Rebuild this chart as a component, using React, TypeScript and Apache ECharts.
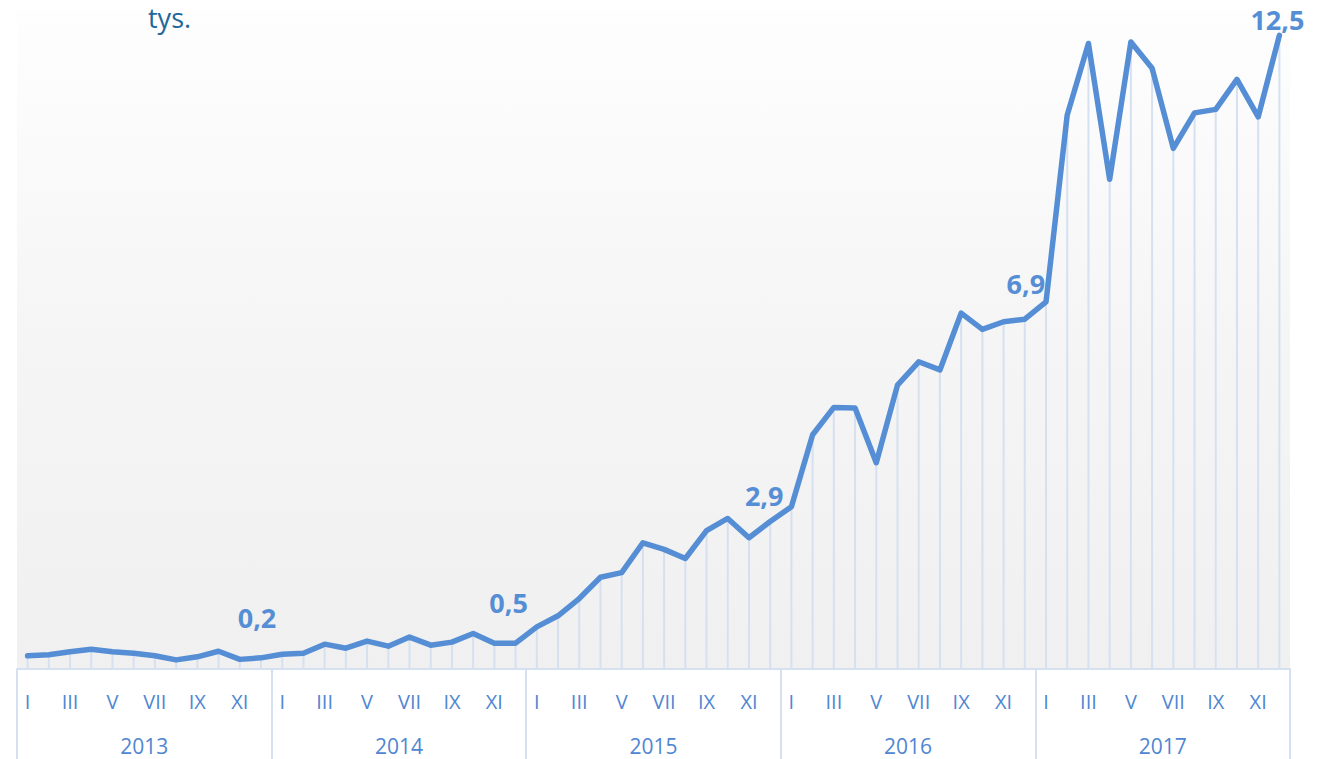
import React, { useEffect, useRef } from "react";
import * as echarts from "echarts";

const years = ["2013", "2014", "2015", "2016", "2017"];
const romanMonths = ["I", "II", "III", "IV", "V", "VI", "VII", "VIII", "IX", "X", "XI", "XII"];

const values2013 = [0.26, 0.28, 0.34, 0.39, 0.34, 0.31, 0.26, 0.18, 0.24, 0.35, 0.19, 0.22];
const values2014 = [0.29, 0.31, 0.49, 0.41, 0.55, 0.45, 0.63, 0.47, 0.53, 0.7, 0.51, 0.51];
const values2015 = [0.83, 1.05, 1.39, 1.81, 1.9, 2.49, 2.36, 2.18, 2.73, 2.97, 2.59, 2.91];
const values2016 = [3.2, 4.62, 5.16, 5.15, 4.07, 5.6, 6.06, 5.9, 7.02, 6.7, 6.85, 6.9];
const values2017 = [7.24, 10.93, 12.34, 9.66, 12.37, 11.85, 10.27, 10.97, 11.04, 11.63, 10.89, 12.5];

// labelled points: index -> text
const labelIndex = [11, 23, 35, 47, 59];
const labelText = ["0,2", "0,5", "2,9", "6,9", "12,5"];

const BLUE = "#558ed5";
const LIGHT = "#d5e1f1";

export default function App() {
  const ref = useRef<HTMLDivElement>(null);

  useEffect(() => {
    if (!ref.current) return;
    const chart = echarts.init(ref.current, undefined, { renderer: "svg" });

    const values = [...values2013, ...values2014, ...values2015, ...values2016, ...values2017];
    const categories: string[] = [];
    years.forEach((y) => romanMonths.forEach((m, i) => categories.push(y + "-" + i)));

    const labelOffsets: Record<number, number[]> = {
      11: [-4, -40],
      23: [-7, -41],
      35: [-6, -26],
      47: [1, -36],
      59: [-2, -16],
    };

    const lineData = values.map((v, i) => {
      const k = labelIndex.indexOf(i);
      if (k < 0) return { value: v, label: { show: false } };
      return {
        value: v,
        label: {
          show: true,
          position: "inside",
          offset: labelOffsets[i],
          formatter: labelText[k],
          color: BLUE,
          fontSize: 27,
          fontWeight: "bold",
          fontFamily: "Open Sans",
        },
      };
    });

    chart.setOption({
      animation: false,
      grid: {
        left: 17,
        right: 31,
        top: 10,
        bottom: 90,
        show: true,
        borderWidth: 0,
        backgroundColor: new echarts.graphic.LinearGradient(0, 0, 0, 1, [
          { offset: 0, color: "#fefefe" },
          { offset: 0.5, color: "#f5f5f5" },
          { offset: 1, color: "#f0f0f0" },
        ]),
      },
      xAxis: [
        {
          type: "category",
          data: categories,
          boundaryGap: true,
          position: "bottom",
          axisLine: { show: true, lineStyle: { color: LIGHT, width: 2 } },
          axisTick: { show: false },
          axisLabel: {
            interval: 0,
            margin: 22,
            color: "#4f86d2",
            fontSize: 20,
            fontFamily: "Open Sans",
            formatter: (val: string) => {
              const m = parseInt(val.split("-")[1], 10);
              return m % 2 === 0 ? romanMonths[m] : "";
            },
          },
          splitLine: { show: false },
        },
        {
          type: "category",
          data: years,
          boundaryGap: true,
          position: "bottom",
          offset: 0,
          axisLine: { show: false },
          axisTick: { show: true, length: 90, lineStyle: { color: LIGHT, width: 2 } },
          axisLabel: {
            interval: 0,
            margin: 66,
            color: "#4f86d2",
            fontSize: 21,
            fontFamily: "Open Sans",
          },
          splitLine: { show: false },
        },
      ],
      yAxis: {
        type: "value",
        min: 0,
        max: 13,
        show: false,
        splitLine: { show: false },
      },
      graphic: [
        {
          type: "text",
          x: 148,
          y: 4,
          style: {
            text: "tys.",
            fill: "#22679b",
            font: "27px 'Open Sans'",
            align: "left",
            verticalAlign: "top",
          },
          z: 10,
        },
      ],
      series: [
        {
          type: "bar",
          data: values,
          barWidth: 2,
          silent: true,
          itemStyle: { color: LIGHT },
          z: 1,
        },
        {
          type: "line",
          data: lineData,
          symbol: "circle",
          symbolSize: 1,
          showSymbol: true,
          itemStyle: { color: BLUE },
          lineStyle: { color: BLUE, width: 5.5, cap: "round", join: "round" },
          z: 3,
          silent: true,
        },
      ],
    });

    return () => chart.dispose();
  }, []);

  return (
    <div
      ref={ref}
      style={{ position: "absolute", left: 0, top: 0, width: 1321, height: 759 }}
    />
  );
}
